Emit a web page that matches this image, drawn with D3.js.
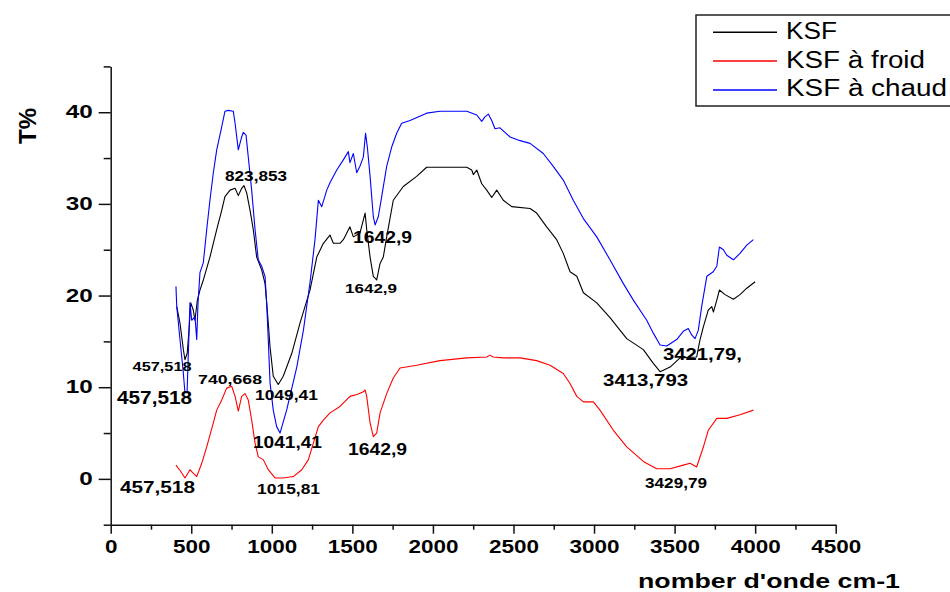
<!DOCTYPE html>
<html><head><meta charset="utf-8">
<script src="https://cdn.jsdelivr.net/npm/d3@7"></script>
<style>body{margin:0;background:#fff} svg{display:block}</style>
</head><body><svg id="c" width="950" height="592"></svg>
<script>
// ---- data ----
const seriesNames = ["KSF", "KSF à froid", "KSF à chaud"];
const seriesColors = ["#000000", "#ff0000", "#0000ff"];

const ksfX = [410,430,451,461,475,486,497,513,523,538,554,575,616,658,689,709,741,772,792,813,827,844,865,885,906,937,958,972,989,1009,1040,1071,1124,1175,1237,1279,1320,1361,1382,1423,1444,1485,1506,1547,1579,1589,1610,1630,1651,1672,1692,1713,1754,1816,1899,1961,2210,2241,2251,2272,2303,2334,2365,2396,2437,2489,2603,2644,2706,2768,2809,2851,2893,2934,3017,3099,3203,3306,3368,3410,3472,3534,3637,3658,3679,3709,3731,3741,3762,3778,3813,3865,3906,3948,4000];
const ksfT = [18.8,17.0,14.1,13.0,13.7,16.2,19.2,18.4,17.3,19.5,20.6,21.7,24.2,27.2,29.3,30.8,31.5,31.7,30.9,31.7,32.0,31.2,29.3,27.2,24.2,22.8,21.3,18.4,14.4,11.2,10.3,11.2,13.7,17.0,20.6,24.2,25.7,26.6,25.7,25.7,26.1,27.5,26.4,26.8,29.0,27.2,24.2,22.1,21.7,23.5,24.2,26.4,30.4,31.9,33.0,34.0,34.0,33.7,33.2,33.7,32.2,31.5,30.7,31.5,30.4,29.7,29.5,29.0,27.5,26.1,24.6,22.6,22.1,20.3,19.2,17.6,15.3,14.1,12.6,11.7,12.2,13.2,13.3,15.2,16.6,18.4,18.8,18.2,19.5,20.6,20.1,19.6,20.1,20.8,21.5];

const froidX = [405,435,461,492,513,534,565,596,637,658,689,720,751,772,792,813,834,854,875,896,916,947,978,1020,1071,1133,1186,1227,1258,1289,1320,1361,1423,1485,1529,1568,1579,1589,1610,1630,1651,1672,1713,1754,1796,1899,2044,2210,2334,2354,2373,2437,2541,2644,2727,2809,2851,2893,2934,2996,3037,3120,3203,3306,3389,3472,3554,3596,3637,3679,3709,3762,3824,3906,3989];
const froidT = [1.5,0.8,0.1,1.0,0.6,0.25,1.7,3.5,6.1,7.5,8.6,9.9,10.1,9.0,7.4,9.0,9.3,8.6,6.4,3.9,2.4,2.1,1.0,0.1,0.1,0.25,1.0,2.1,3.9,5.7,6.4,7.2,7.9,9.0,9.2,9.5,9.7,9.0,6.1,4.6,5.0,7.2,9.3,11.0,12.1,12.4,12.9,13.2,13.3,13.5,13.3,13.2,13.2,12.9,12.4,11.5,10.4,9.0,8.4,8.4,7.5,5.3,3.5,1.9,1.1,1.1,1.5,1.7,1.3,3.5,5.3,6.6,6.6,7.0,7.5];

const chaudX = [405,410,430,449,461,474,492,503,523,534,542,554,575,596,616,637,658,689,709,730,761,772,792,813,823,840,854,875,896,916,937,958,968,978,989,1009,1030,1051,1092,1155,1196,1237,1268,1289,1310,1341,1361,1403,1444,1475,1485,1506,1527,1547,1568,1582,1593,1610,1630,1641,1661,1682,1713,1744,1775,1806,1858,1961,2044,2210,2272,2303,2323,2344,2365,2385,2416,2479,2541,2603,2685,2747,2809,2871,2934,3017,3099,3182,3244,3327,3368,3410,3451,3513,3554,3585,3606,3627,3647,3668,3700,3740,3762,3778,3803,3824,3865,3906,3948,3989];
const chaudT = [21.0,18.8,15.2,11.9,9.4,9.4,19.2,17.3,17.7,15.2,19.2,22.5,23.6,27.2,30.4,33.4,35.9,38.4,40.1,40.2,40.1,38.8,35.9,37.3,37.8,37.5,35.1,31.5,27.2,23.9,23.2,22.1,19.2,15.2,10.5,7.5,5.7,5.0,7.5,12.2,16.2,21.4,26.1,30.4,29.7,31.5,32.3,33.7,34.8,35.7,34.5,35.5,33.4,34.1,35.1,37.7,36.2,33.0,28.6,27.7,28.6,30.8,34.1,36.2,37.7,38.8,39.1,39.9,40.1,40.1,39.7,39.0,39.5,39.8,39.1,38.2,38.3,37.3,36.9,36.6,35.5,34.1,32.6,30.4,28.4,26.4,23.9,21.3,19.5,17.3,15.9,14.6,14.5,15.2,16.1,16.4,15.7,15.3,16.2,18.8,22.1,22.6,23.2,25.3,25.0,24.4,23.9,24.6,25.5,26.1];

const xTicks = [0,500,1000,1500,2000,2500,3000,3500,4000,4500];
const xMinor = [250,750,1250,1750,2250,2750,3250,3750,4250];
const yTicks = [0,10,20,30,40];
const yMinor = [-5,5,15,25,35,45];

// peak annotations: label text, wavenumber, T (anchor in data units)
const annText = ["823,853","1642,9","1642,9","457,518","740,668","457,518","1049,41","1041,41","1642,9","457,518","1015,81","3413,793","3421,79,","3429,79"];
const annX    = [902,1687,1616,319,741,272,1091,1097,1656,290,1104,3320,3673,3509];
const annT    = [32.5,25.7,20.3,11.8,10.4,8.2,8.6,3.4,2.6,-1.5,-1.7,10.1,13.0,-1.0];
const annSize = [14,16,13,13,13,18,15,17,16,17,14,17,17,14];
const annW    = [62,59,52,59,64,75,63,69,59,75,63,85,79,62];

// ---- drawing ----
const svg = d3.select("#c");
const x = d3.scaleLinear().domain([0,4500]).range([110.7,835.7]);
const y = d3.scaleLinear().domain([-5,45]).range([524.7,66.4]);
const FONT = "'Liberation Sans', Arial, sans-serif";

const series = [
  {name: seriesNames[0], color: seriesColors[0], xs: ksfX, ts: ksfT},
  {name: seriesNames[1], color: seriesColors[1], xs: froidX, ts: froidT},
  {name: seriesNames[2], color: seriesColors[2], xs: chaudX, ts: chaudT}
];
const line = d3.line().x(d => x(d[0])).y(d => y(d[1]));
series.forEach(s => {
  svg.append("path")
    .datum(s.xs.map((v,i) => [v, s.ts[i]]))
    .attr("d", line).attr("fill","none")
    .attr("stroke", s.color).attr("stroke-width", 1.1)
    .attr("stroke-linejoin","round");
});

// axes
const gx = svg.append("g").attr("transform", `translate(0,${y(-5)})`)
  .call(d3.axisBottom(x).tickValues(xTicks).tickFormat(d3.format("d")).tickSizeInner(9).tickSizeOuter(0).tickPadding(7));
svg.append("g").attr("transform", `translate(0,${y(-5)})`)
  .call(d3.axisBottom(x).tickValues(xMinor).tickFormat("").tickSizeInner(5).tickSizeOuter(0))
  .select(".domain").remove();
const gy = svg.append("g").attr("transform", `translate(${x(0)},0)`)
  .call(d3.axisLeft(y).tickValues(yTicks).tickFormat(d3.format("d")).tickSizeInner(12).tickSizeOuter(0).tickPadding(6));
svg.append("g").attr("transform", `translate(${x(0)},0)`)
  .call(d3.axisLeft(y).tickValues(yMinor).tickFormat("").tickSizeInner(7).tickSizeOuter(0))
  .select(".domain").remove();

svg.selectAll(".domain").attr("stroke","#111").attr("stroke-width",1.5);
svg.selectAll(".tick line").attr("stroke","#111").attr("stroke-width",1.5);
gx.selectAll(".tick text")
  .attr("font-family", FONT).attr("font-weight","bold").attr("font-size",18).attr("fill","#000")
  .attr("textLength", function(){ return 12.5*this.textContent.length; }).attr("lengthAdjust","spacingAndGlyphs");
gy.selectAll(".tick text")
  .attr("font-family", FONT).attr("font-weight","bold").attr("font-size",18).attr("fill","#000")
  .attr("textLength", function(){ return 13.5*this.textContent.length; }).attr("lengthAdjust","spacingAndGlyphs");

// axis titles
svg.append("text").text("nomber d'onde cm-1")
  .attr("x", 638).attr("y", 588)
  .attr("font-family", FONT).attr("font-weight","bold").attr("font-size",21)
  .attr("textLength", 262).attr("lengthAdjust","spacingAndGlyphs");
svg.append("text").text("T%")
  .attr("transform","translate(36,126) rotate(-90)")
  .attr("text-anchor","middle")
  .attr("font-family", FONT).attr("font-weight","bold").attr("font-size",24);

// annotations
annText.forEach((t,i) => {
  svg.append("text").text(t)
    .attr("x", x(annX[i])).attr("y", y(annT[i]))
    .attr("text-anchor","middle")
    .attr("font-family", FONT).attr("font-weight","bold").attr("font-size", annSize[i])
    .attr("textLength", annW[i]).attr("lengthAdjust","spacingAndGlyphs");
});

// legend
svg.append("rect").attr("x",696).attr("y",15).attr("width",270).attr("height",91)
  .attr("fill","#fff").attr("stroke","#222").attr("stroke-width",1.5);
const legW = [51,139,161];
series.forEach((s,i) => {
  const cy = 32.3 + i*28.8;
  svg.append("line").attr("x1",713).attr("x2",777).attr("y1",cy).attr("y2",cy)
    .attr("stroke", s.color).attr("stroke-width",1.5);
  svg.append("text").text(s.name).attr("x",786).attr("y",cy+6.5)
    .attr("font-family", FONT).attr("font-size",23)
    .attr("textLength", legW[i]).attr("lengthAdjust","spacingAndGlyphs");
});
</script>
</body></html>
